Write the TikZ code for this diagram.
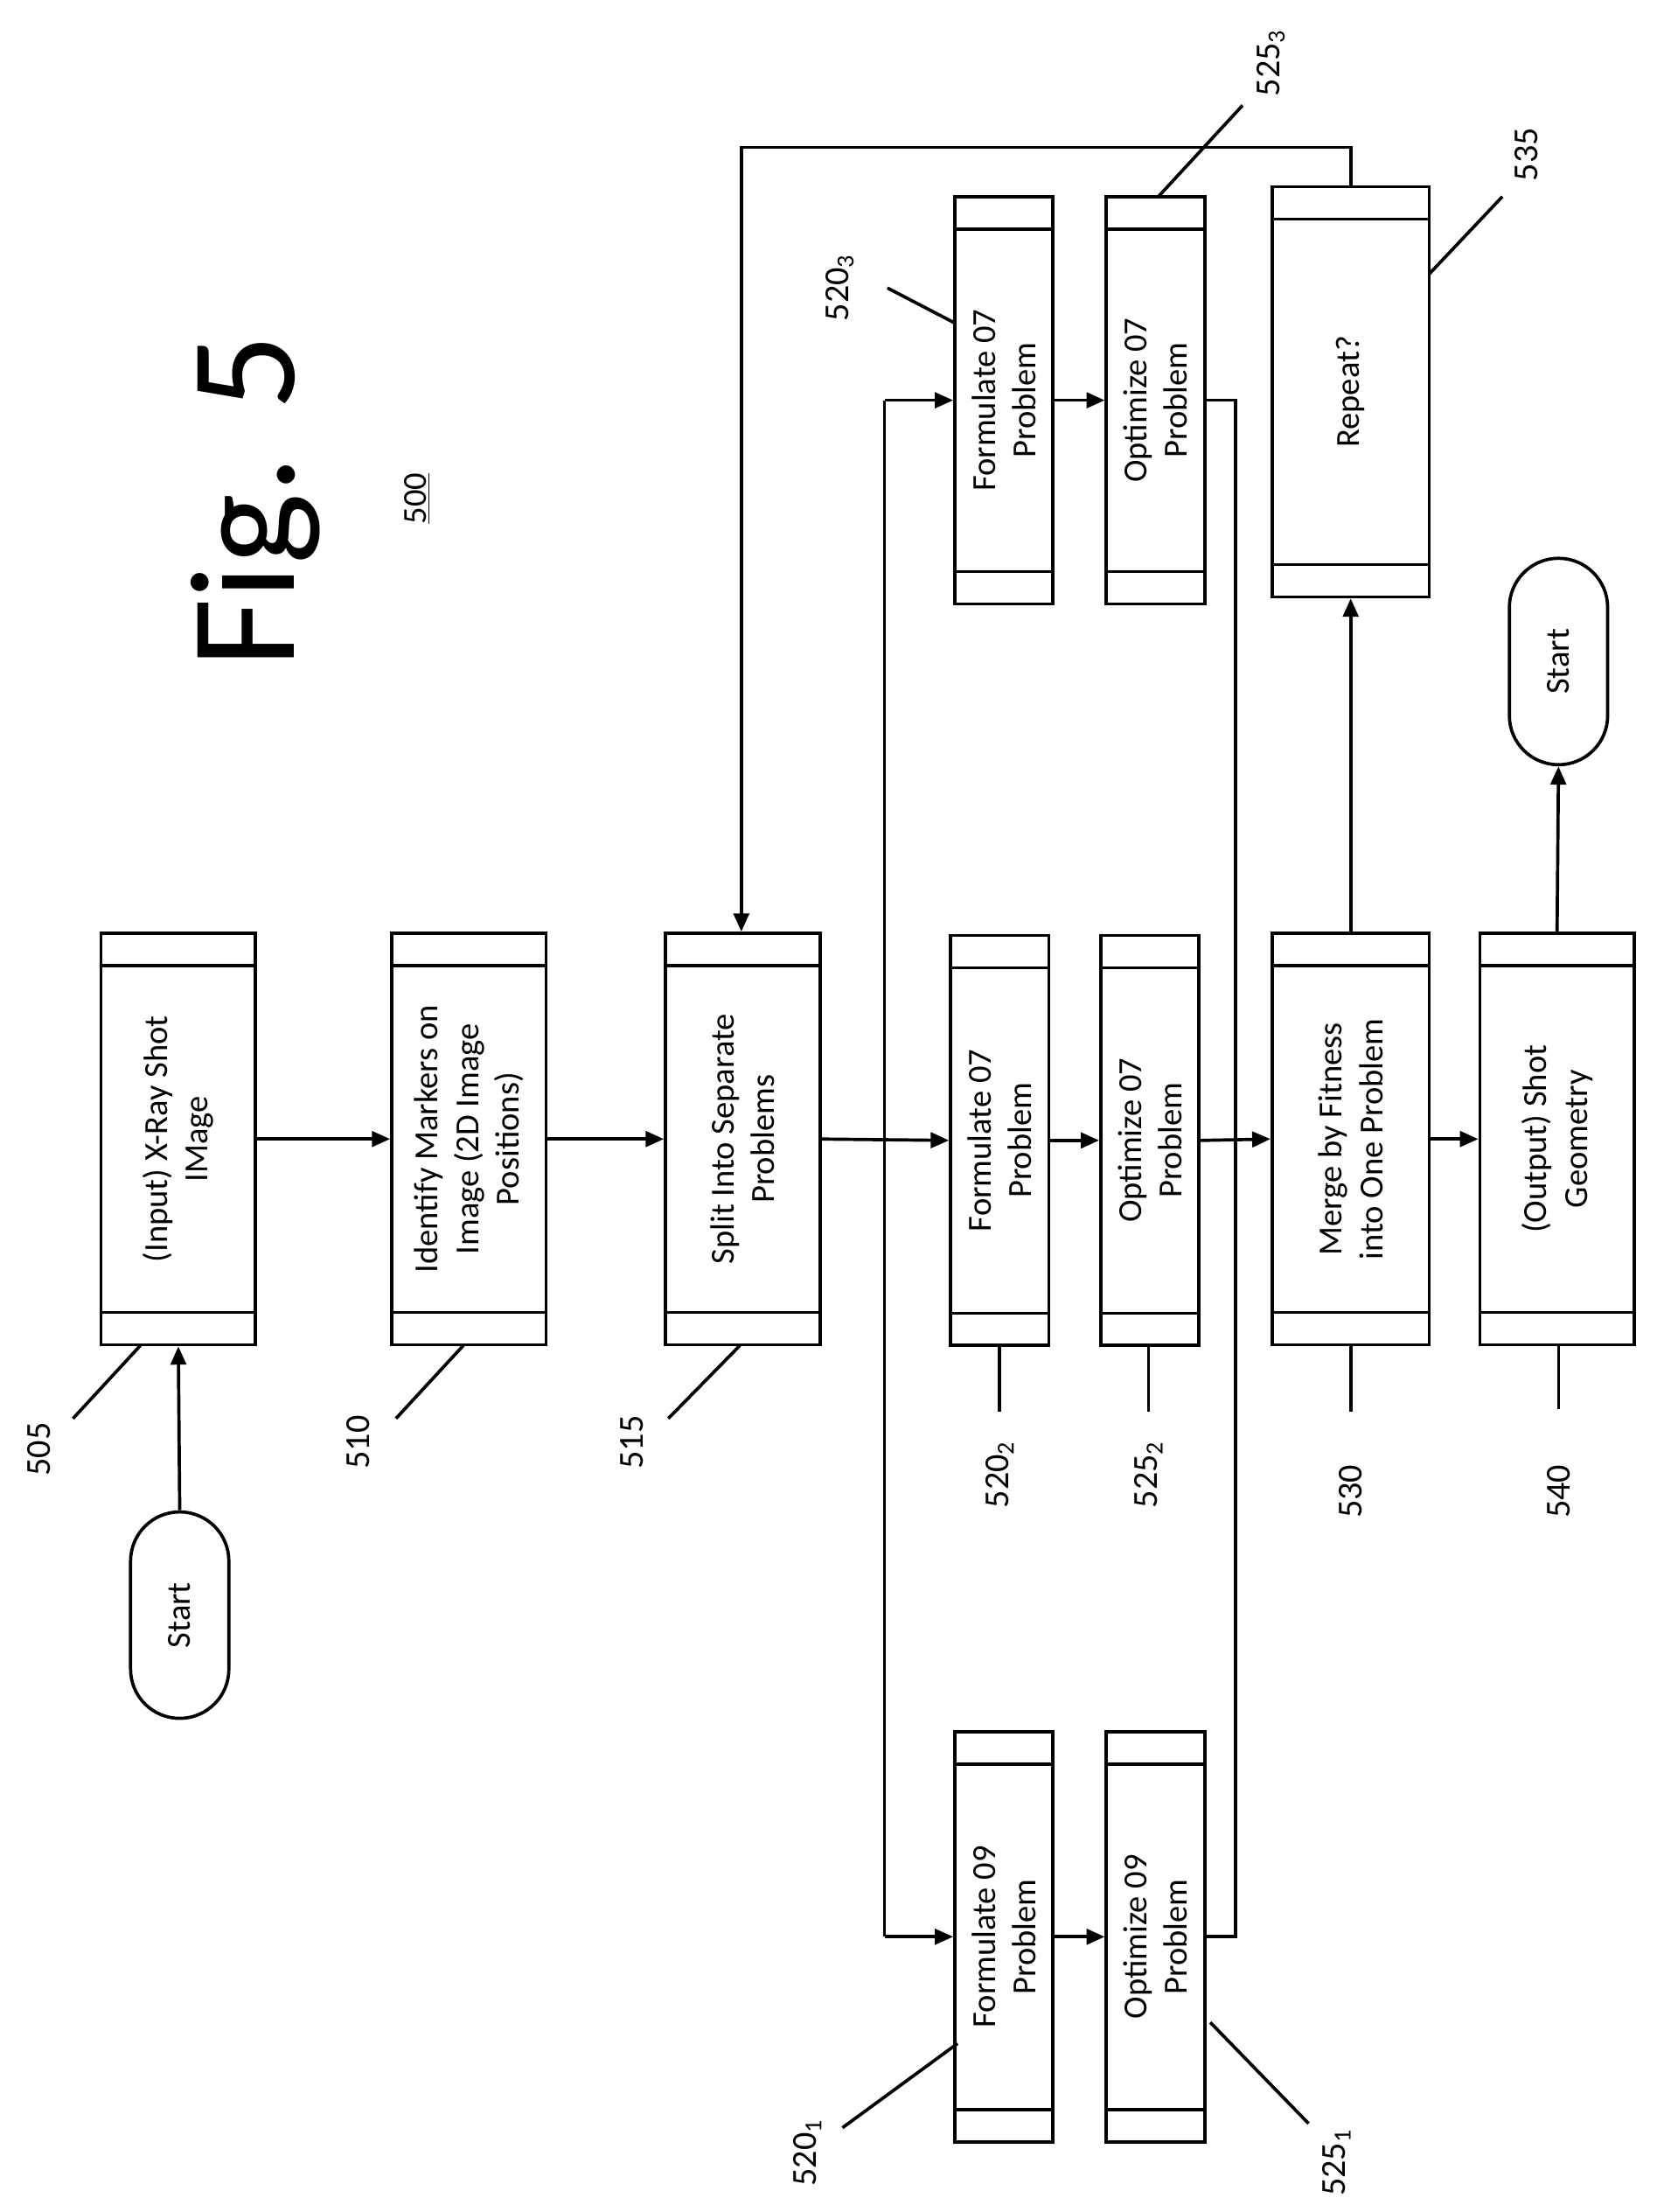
\documentclass[tikz,border=0pt]{standalone}
\usepackage{fontspec}
\setmainfont{Carlito}
\usetikzlibrary{arrows.meta}
\begin{document}
\begin{tikzpicture}[x=1pt,y=-1pt,
  lw/.style={line width=2.3pt},
  box/.style={draw,lw,rectangle,inner sep=0pt,
    path picture={\draw[lw] ([yshift=-23pt]path picture bounding box.north west) -- ([yshift=-23pt]path picture bounding box.north east);
      \draw[lw] ([yshift=23pt]path picture bounding box.south west) -- ([yshift=23pt]path picture bounding box.south east);}},
  txt/.style={rotate=90,align=center,font=\fontsize{24}{29}\selectfont},
  lab/.style={rotate=90,font=\fontsize{25}{28}\selectfont},
  term/.style={draw,lw,rounded corners=35pt,minimum width=70pt,minimum height=147pt},
  arr/.style={lw,-{Triangle[length=13pt,width=11pt]}},
  ln/.style={lw}]
\useasboundingbox (0,0) rectangle (1185,1575);
\newcommand{\pbox}[6]{\node[box,minimum width=#4,minimum height=#5] (#1) at (#2,#3) {};
  \node[txt] at (#1) {#6};}
\pbox{b505}{127}{811}{110}{293}{(Input) X-Ray Shot\\IMage}
\pbox{b510}{334}{811}{110}{293}{Identify Markers on\\Image (2D Image\\Positions)}
\pbox{b515}{529}{811}{110}{293}{Split Into Separate\\Problems}
\pbox{b5202}{712}{812}{70}{292}{Formulate 07\\Problem}
\pbox{b5252}{819}{812}{70}{292}{Optimize 07\\Problem}
\pbox{b530}{962}{811}{112}{293}{Merge by Fitness\\into One Problem}
\pbox{b540}{1109}{811}{110}{293}{(Output) Shot\\Geometry}
\pbox{b5201}{715}{1379}{70}{292}{Formulate 09\\Problem}
\pbox{b5251}{823}{1379}{70}{292}{Optimize 09\\Problem}
\pbox{b5203}{715}{285}{70}{290}{Formulate 07\\Problem}
\pbox{b5253}{823}{285}{70}{290}{Optimize 07\\Problem}
\pbox{b535}{962}{279}{112}{292}{Repeat?}
\node[term] (s1) at (128,1150) {}; \node[txt] at (s1) {Start};
\node[term] (s2) at (1110,471) {}; \node[txt] at (s2) {Start};
\node[rotate=90,font=\fontsize{107}{110}\selectfont] (fig) at (182,357) {Fig. 5};
\node[rotate=90,font=\fontsize{24}{26}\selectfont] (n500) at (297,355) {\underline{500}};
% arrows
\draw[arr] (s1.north) -- (b505.south);
\draw[arr] (b505.east) -- (b510.west);
\draw[arr] (b510.east) -- (b515.west);
\draw[arr] (b515.east) -- (b5202.west);
\coordinate (ta) at (630,285); \coordinate (tb) at (630,1379);
\draw[ln] (ta) -- (tb);
\draw[arr] (ta) -- (b5203.west);
\draw[arr] (tb) -- (b5201.west);
\draw[arr] (b5202.east) -- (b5252.west);
\draw[arr] (b5201.east) -- (b5251.west);
\draw[arr] (b5203.east) -- (b5253.west);
\coordinate (ma) at (880,285); \coordinate (mb) at (880,1379);
\draw[ln] (b5253.east) -- (ma) -- (mb) -- (b5251.east);
\draw[arr] (b5252.east) -- (b530.west);
\draw[arr] (b530.north) -- (b535.south);
\coordinate (r1) at (962,105); \coordinate (r2) at (528,105);
\draw[arr] (b535.north) -- (r1) -- (r2) -- (b515.north -| r2);
\draw[arr] (b530.east) -- (b540.west);
\draw[arr] (b540.north) -- (s2.south);
% labels
\node[lab] (l505) at (28,1032) {505}; \draw[ln] (52,1010) -- (100,958);
\node[lab] (l510) at (255,1027) {510}; \draw[ln] (282,1010) -- (330,958);
\node[lab] (l515) at (450,1027) {515}; \draw[ln] (476,1010) -- (527,958);
\node[lab] (l5202) at (712,1050) {520\textsubscript{2}}; \draw[ln] (712,958) -- (712,1005);
\node[lab] (l5252) at (818,1050) {525\textsubscript{2}}; \draw[ln] (818,958) -- (818,1005);
\node[lab] (l530) at (962,1062) {530}; \draw[ln] (962,958) -- (962,1005);
\node[lab] (l540) at (1110,1062) {540}; \draw[ln] (1110,958) -- (1110,1003);
\node[lab] (l5201) at (575,1533) {520\textsubscript{1}}; \draw[ln] (600,1515) -- (682,1455);
\node[lab] (l5251) at (952,1540) {525\textsubscript{1}}; \draw[ln] (932,1512) -- (862,1440);
\node[lab] (l5203) at (598,205) {520\textsubscript{3}}; \draw[ln] (632,205) -- (680,230);
\node[lab] (l5253) at (905,45) {525\textsubscript{3}}; \draw[ln] (885,75) -- (825,140);
\node[lab] (l535) at (1087,110) {535}; \draw[ln] (1070,140) -- (1018,195);
\end{tikzpicture}
\end{document}
